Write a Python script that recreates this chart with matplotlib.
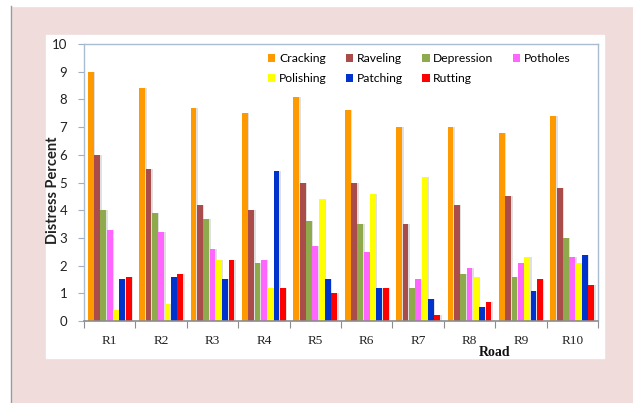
import matplotlib
matplotlib.use("Agg")
import matplotlib.pyplot as plt
import numpy as np
from matplotlib.patches import Rectangle
from matplotlib.lines import Line2D

roads = ["R1", "R2", "R3", "R4", "R5", "R6", "R7", "R8", "R9", "R10"]
series_names = ["Cracking", "Raveling", "Depression", "Potholes", "Polishing", "Patching", "Rutting"]
cracking = [9.0, 8.4, 7.7, 7.5, 8.1, 7.6, 7.0, 7.0, 6.8, 7.4]
raveling = [6.0, 5.5, 4.2, 4.0, 5.0, 5.0, 3.5, 4.2, 4.5, 4.8]
depression = [4.0, 3.9, 3.7, 2.1, 3.6, 3.5, 1.2, 1.7, 1.6, 3.0]
potholes = [3.3, 3.2, 2.6, 2.2, 2.7, 2.5, 1.5, 1.9, 2.1, 2.3]
polishing = [0.4, 0.6, 2.2, 1.2, 4.4, 4.6, 5.2, 1.6, 2.3, 2.1]
patching = [1.5, 1.6, 1.5, 5.4, 1.5, 1.2, 0.8, 0.5, 1.1, 2.4]
rutting = [1.6, 1.7, 2.2, 1.2, 1.0, 1.2, 0.2, 0.7, 1.5, 1.3]
y_ticks = [0, 1, 2, 3, 4, 5, 6, 7, 8, 9, 10]

series = [cracking, raveling, depression, potholes, polishing, patching, rutting]
colors = ["#FF9900", "#A94C4A", "#8FAA4C", "#FF66FF", "#FFFF00", "#0033CC", "#FF0000"]

W, H = 633, 403
fig = plt.figure(figsize=(W / 100, H / 100), dpi=100)
fig.patch.set_facecolor("#F0DCDB")

def fx(px):
    return px / W

def fy(py):
    return 1 - py / H

# white margins at top/left, and border line
fig.add_artist(Rectangle((0, fy(6)), 1, 1 - fy(6), transform=fig.transFigure, color="white", zorder=0))
fig.add_artist(Rectangle((0, 0), fx(10.5), 1, transform=fig.transFigure, color="white", zorder=0))
fig.add_artist(Line2D([fx(11), fx(11)], [0, fy(6)], transform=fig.transFigure, color="#9a9a9a", lw=1.0))

# white chart panel
fig.add_artist(Rectangle((fx(46), fy(358)), fx(604) - fx(46), fy(35) - fy(358),
                         transform=fig.transFigure, color="white", zorder=0))

ax = fig.add_axes([fx(84), fy(321), fx(598) - fx(84), fy(44) - fy(321)])
ax.set_facecolor("white")

n = len(series)
x = np.arange(len(roads))
group_w = 0.86
bw = group_w / n
handles = []
for i, (vals, c) in enumerate(zip(series, colors)):
    pos = x - group_w / 2 + bw * (i + 0.5)
    # faint shadow
    ax.bar(pos + bw * 0.25, vals, width=bw * 0.92, color="#e0e0e0", zorder=1)
    h = ax.bar(pos, vals, width=bw * 0.92, color=c, label=series_names[i], zorder=2)
    handles.append(h)

ax.set_xlim(-0.5, len(roads) - 0.5)
ax.set_ylim(0, 10)
ax.set_yticks(y_ticks)
ax.set_yticklabels([str(t) for t in y_ticks], fontfamily="Lato", fontsize=9.5, color="#222222")
ax.set_xticks(np.arange(len(roads) + 1) - 0.5, minor=False)
ax.set_xticklabels([])
ax.set_xticks(x, minor=True)
ax.set_xticklabels(roads, minor=True, fontfamily="Liberation Serif", fontsize=9.5, color="#222222")
ax.tick_params(axis="x", which="major", length=5, color="#8c8c8c", direction="out")
ax.tick_params(axis="x", which="minor", length=0, pad=10)
ax.tick_params(axis="y", length=4, color="#9DB0C8", direction="out", pad=8)

for s in ["top", "right", "left"]:
    ax.spines[s].set_color("#A9BCD2")
    ax.spines[s].set_linewidth(1.0)
ax.spines["bottom"].set_color("#8c8c8c")
ax.spines["bottom"].set_linewidth(1.2)

fig.text(fx(495), fy(353), "Road", ha="center", va="center", fontfamily="Liberation Serif",
         fontweight="bold", fontsize=10, color="#111111")
fig.text(fx(53), fy(190), "Distress Percent", ha="center", va="center", rotation=90,
         fontfamily="Lato", fontweight="bold", fontsize=10.5, color="#222222")

# legend filled row-wise (matplotlib fills column-wise)
order = [0, 4, 1, 5, 2, 6, 3]
leg = ax.legend([handles[k] for k in order], [series_names[k] for k in order],
                ncol=4, loc="upper left", bbox_to_anchor=((268 - 84) / (598 - 84), 1 - (53 - 44) / 277),
                frameon=False, prop={"family": "Lato", "size": 8.7},
                handlelength=0.6, handleheight=0.6, handletextpad=0.3, columnspacing=1.6,
                labelspacing=0.75, borderpad=0, borderaxespad=0)

fig.savefig("out.png", dpi=100, facecolor=fig.get_facecolor())
